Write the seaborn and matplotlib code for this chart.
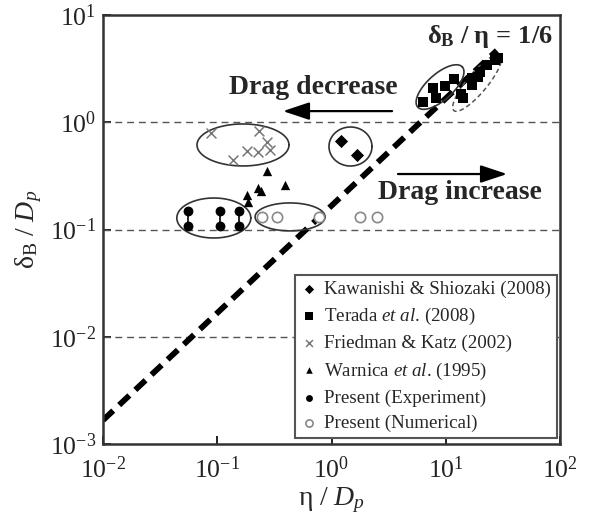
import numpy as np
import matplotlib
matplotlib.use("Agg")
import matplotlib.pyplot as plt
from matplotlib.ticker import NullLocator
import seaborn as sns

# ---------------- data ----------------
kaw_x = [1.20, 1.68]
kaw_y = [0.673, 0.495]

ter_x = [6.3, 7.7, 8.2, 9.9, 11.8, 14.2, 13.5, 17.0, 19.2, 19.9, 23.0, 27.0, 28.7, 17.0]
ter_y = [1.55, 2.09, 1.68, 2.18, 2.53, 1.68, 1.85, 2.22, 2.64, 2.94, 3.42, 3.80, 3.97, 2.60]

fri_x = [0.089, 0.233, 0.271, 0.181, 0.229, 0.290, 0.138]
fri_y = [0.789, 0.834, 0.659, 0.543, 0.531, 0.551, 0.445]

war_x = [0.271, 0.229, 0.181, 0.187, 0.392, 0.240]
war_y = [0.351, 0.242, 0.210, 0.182, 0.260, 0.230]

exp_x = [0.0558, 0.105, 0.155]
exp_y_hi = [0.150, 0.150, 0.150]
exp_y_lo = [0.108, 0.108, 0.108]

num_x = [0.245, 0.336, 0.778, 1.78, 2.52]
num_y = [0.1316, 0.1316, 0.1316, 0.1316, 0.1316]

line_x = [0.01, 28.0]
ratio = 1 / 6

x_ticks = [1e-2, 1e-1, 1e0, 1e1, 1e2]
y_ticks = [1e-3, 1e-2, 1e-1, 1e0, 1e1]
grid_levels = [1e-2, 1e-1, 1e0]

labels = ["Kawanishi & Shiozaki (2008)", "Terada $\\it{et\\ al}$. (2008)",
          "Friedman & Katz (2002)", "Warnica $\\it{et\\ al}$. (1995)",
          "Present (Experiment)", "Present (Numerical)"]

# ---------------- style ----------------
sns.set_style("ticks")
plt.rcParams["font.family"] = ["Liberation Serif", "DejaVu Serif"]
plt.rcParams["mathtext.fontset"] = "custom"
plt.rcParams["mathtext.rm"] = "Liberation Serif"
plt.rcParams["mathtext.it"] = "Liberation Serif:italic"
plt.rcParams["mathtext.bf"] = "Liberation Serif:bold"
plt.rcParams["axes.unicode_minus"] = False

W, H = 590, 523
fig = plt.figure(figsize=(W / 100, H / 100), dpi=100)
L, R, B, T = 103, 560, 444, 15
ax = fig.add_axes([L / W, 1 - B / H, (R - L) / W, (B - T) / H])
ax.set_xscale("log")
ax.set_yscale("log")
ax.set_xlim(x_ticks[0], x_ticks[-1])
ax.set_ylim(y_ticks[0], y_ticks[-1])

px_dec_x = (R - L) / 4.0
px_dec_y = (B - T) / 4.0

for lv in grid_levels:
    ax.axhline(lv, color="#555555", lw=1.0, ls=(0, (5, 3.5)), zorder=1)

# theoretical line
lx = np.array(line_x)
sns.lineplot(x=lx, y=lx * ratio, ax=ax, color="black", lw=4.2, zorder=2)
ax.lines[-1].set_dashes((2.4, 1.4))

# ellipses (center in data units, semi-axes in pixels)
def ellipse(cx, cy, a, b, ang, **kw):
    t = np.linspace(0, 2 * np.pi, 200)
    th = np.deg2rad(ang)
    dx = a * np.cos(t) * np.cos(th) - b * np.sin(t) * np.sin(th)
    dy = a * np.cos(t) * np.sin(th) + b * np.sin(t) * np.cos(th)
    ax.plot(cx * 10 ** (dx / px_dec_x), cy * 10 ** (dy / px_dec_y), **kw)

ekw = dict(color="#333333", lw=1.2, zorder=3)
ellipse(0.168, 0.614, 46, 21, 0, **ekw)
ellipse(1.466, 0.594, 21.5, 19.5, 0, **ekw)
ellipse(0.0933, 0.128, 37, 20, 0, **ekw)
ellipse(0.434, 0.131, 35, 14, 0, **ekw)
ellipse(8.91, 2.13, 30, 13, 42, **ekw)
ellipse(18.8, 2.32, 36, 10, 50, color="#555555", lw=1.1, ls=(0, (3, 2)), zorder=3)

# connecting lines for experiment pairs
ax.vlines(exp_x, exp_y_lo, exp_y_hi, color="black", lw=1.2, zorder=3)

sns.scatterplot(x=kaw_x, y=kaw_y, marker="D", color="black", s=45, linewidth=0,
                label=labels[0], ax=ax, zorder=5)
sns.scatterplot(x=ter_x, y=ter_y, marker="s", color="black", s=55, linewidth=0,
                label=labels[1], ax=ax, zorder=5)
sns.scatterplot(x=fri_x, y=fri_y, marker="x", color="#777777", s=50, linewidth=1.1,
                label=labels[2], ax=ax, zorder=5)
sns.scatterplot(x=war_x, y=war_y, marker="^", color="black", s=45, linewidth=0,
                label=labels[3], ax=ax, zorder=5)
sns.scatterplot(x=exp_x + exp_x, y=exp_y_hi + exp_y_lo, marker="o", color="black",
                s=50, linewidth=0, label=labels[4], ax=ax, zorder=5)
sns.scatterplot(x=num_x, y=num_y, marker="o", facecolor="white", edgecolor="#888888",
                s=55, linewidth=1.2, label=labels[5], ax=ax, zorder=5)

# arrows & texts
aprops = dict(arrowstyle="-|>,head_length=0.9,head_width=0.3", color="black",
              lw=1.6, mutation_scale=18, shrinkA=0, shrinkB=0)
ax.annotate("", xy=(0.376, 1.27), xytext=(3.39, 1.27), arrowprops=aprops)
ax.annotate("", xy=(34.4, 0.329), xytext=(3.82, 0.329), arrowprops=aprops)
ax.text(0.689, 2.13, "Drag decrease", fontsize=20, fontweight="bold",
        ha="center", va="center")
ax.text(13.3, 0.219, "Drag increase", fontsize=20, fontweight="bold",
        ha="center", va="center")
ax.text(24.4, 6.24, "$\\mathbf{\u03b4_B\\ /\\ \u03b7\\,=\\,1/6}$", fontsize=19,
        ha="center", va="center")

# axes styling
ax.set_xticks(x_ticks)
ax.set_yticks(y_ticks)
ax.xaxis.set_minor_locator(NullLocator())
ax.yaxis.set_minor_locator(NullLocator())
ax.tick_params(direction="in", length=6, width=1.4, labelsize=18.5, colors="#222222",
               pad=5)
ax.tick_params(axis="x", pad=9)
for sp in ax.spines.values():
    sp.set_visible(True)
    sp.set_linewidth(1.8)
    sp.set_color("#333333")

ax.set_xlabel("$\\mathrm{\u03b7\\ /\\ }D_p$", fontsize=20, labelpad=2)
ax.set_ylabel("$\\mathrm{\u03b4_B\\ /\\ }D_p$", fontsize=20, labelpad=4)

leg = ax.legend(loc="lower right", bbox_to_anchor=(0.993, 0.014), borderaxespad=0,
                frameon=True, fancybox=False, fontsize=13.7, handlelength=0.9,
                handletextpad=0.35, labelspacing=0.42, borderpad=0.3,
                markerscale=0.7)
leg.get_frame().set_edgecolor("#555555")
leg.get_frame().set_linewidth(1.5)
leg.get_frame().set_alpha(1)

fig.savefig("out.png", dpi=100)
